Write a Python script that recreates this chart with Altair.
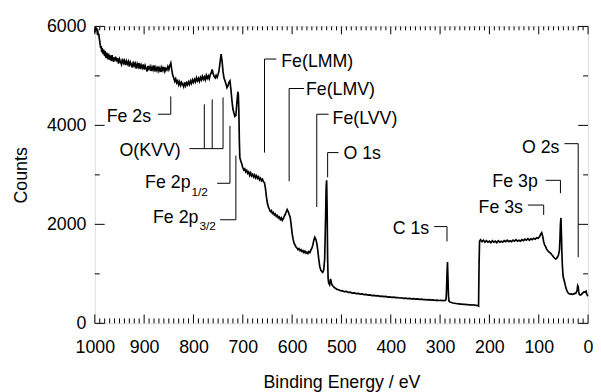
import altair as alt
import pandas as pd

# ---- spectrum ----
energy_ev = [
    1000, 999, 998, 997, 996, 995, 994, 993, 992, 991,
    990, 989, 988, 987, 986, 985, 984, 983, 982, 981,
    980, 979, 978, 977, 976, 975, 974, 973, 972, 971,
    970, 969, 968, 967, 966, 965, 964, 963, 962, 961,
    960, 958, 956, 954, 952, 950, 948, 946, 944, 942,
    940, 938, 936, 934, 932, 930, 928, 926, 924, 922,
    920, 918, 916, 914, 912, 910, 908, 906, 904, 902,
    900, 898, 896, 894, 892, 890, 888, 886, 884, 882,
    880, 878, 876, 874, 872, 870, 868, 866, 864, 862,
    860, 858, 856, 854, 852, 850, 848, 846, 844, 842,
    840, 838, 836, 834, 832, 830, 828, 826, 824, 822,
    820, 818, 816, 814, 812, 810, 808, 806, 804, 802,
    800, 798, 796, 794, 792, 790, 788, 786, 784, 782,
    780, 778, 776, 774, 772, 770, 768, 766, 764, 762,
    760, 758, 756, 754, 752, 750, 748, 746, 744, 742,
    740, 738, 736, 734, 732, 730, 728, 726, 724, 722,
    720, 718, 716, 714, 712, 710, 709, 708, 707, 706,
    704, 702, 700, 698, 696, 694, 692, 690, 688, 686,
    684, 682, 680, 678, 676, 674, 672, 670, 668, 666,
    664, 662, 660, 658, 656, 654, 652, 650, 648, 646,
    644, 642, 640, 638, 636, 634, 632, 630, 628, 626,
    624, 622, 620, 618, 616, 614, 612, 610, 608, 606,
    604, 602, 600, 598, 596, 594, 592, 590, 588, 586,
    584, 582, 580, 578, 576, 574, 572, 570, 568, 566,
    564, 562, 560, 558, 556, 554, 552, 550, 548, 546,
    544, 542, 540, 538, 536, 534, 532, 531, 530, 529,
    528, 527, 526, 524, 522, 520, 518, 516, 514, 512,
    510, 506, 502, 498, 494, 490, 486, 482, 478, 474,
    470, 466, 462, 458, 454, 450, 446, 442, 438, 434,
    430, 426, 422, 418, 414, 410, 406, 402, 398, 394,
    390, 386, 382, 378, 374, 370, 366, 362, 358, 354,
    350, 346, 342, 338, 334, 330, 326, 322, 318, 314,
    310, 306, 302, 298, 294, 290, 288, 287, 286, 285,
    284, 283, 282, 280, 277, 274, 271, 268, 265, 262,
    259, 256, 253, 250, 247, 244, 241, 238, 235, 232,
    229, 226, 223, 222, 221, 220, 218, 215, 212, 209,
    206, 203, 200, 197, 194, 191, 188, 185, 182, 179,
    176, 173, 170, 167, 164, 161, 158, 155, 152, 149,
    146, 143, 140, 137, 134, 131, 128, 125, 122, 119,
    116, 113, 110, 107, 104, 101, 98, 96, 94, 92,
    90, 88, 86, 84, 82, 80, 78, 76, 74, 72,
    70, 68, 66, 64, 62, 60, 58, 57, 56, 55,
    54, 53, 52, 51, 50, 48, 46, 44, 42, 40,
    38, 36, 34, 32, 30, 28, 26, 24, 22, 21,
    20, 19, 18, 16, 14, 12, 10, 8, 6, 4,
    3, 2, 1, 0,
]
counts = [
    5880, 5950, 5990, 5920, 5960, 5880, 5900, 5820, 5850, 5760,
    5700, 5620, 5560, 5600, 5480, 5560, 5500, 5440, 5530, 5450,
    5400, 5500, 5420, 5360, 5470, 5390, 5430, 5330, 5450, 5370,
    5420, 5320, 5410, 5350, 5300, 5420, 5330, 5380, 5280, 5370,
    5310, 5390, 5290, 5360, 5250, 5340, 5280, 5230, 5350, 5260,
    5310, 5220, 5300, 5240, 5290, 5190, 5280, 5230, 5170, 5290,
    5200, 5250, 5150, 5240, 5180, 5260, 5140, 5220, 5160, 5230,
    5130, 5210, 5150, 5090, 5200, 5140, 5190, 5100, 5180, 5120,
    5210, 5090, 5170, 5110, 5190, 5100, 5160, 5080, 5170, 5110,
    5180, 5090, 5150, 5120, 5190, 5130, 5210, 5260, 5120, 5010,
    4960, 4890, 4940, 4860, 4900, 4820, 4880, 4810, 4870, 4830,
    4780, 4870, 4800, 4860, 4820, 4880, 4830, 4900, 4850, 4920,
    4870, 4930, 4880, 4960, 4900, 4950, 4890, 4970, 4920, 4990,
    4930, 4980, 4920, 5010, 4950, 5000, 4940, 5020, 5060, 5130,
    5040, 4990, 4960, 5010, 4970, 5030, 5120, 5280, 5440, 5300,
    5080, 4950, 4900, 4830, 4760, 4800, 4870, 4900, 4720, 4500,
    4330, 4250, 4180, 4200, 4450, 4680, 4620, 4300, 3700, 3350,
    3280, 3220, 3150, 3100, 3120, 3060, 3090, 3030, 3060, 2990,
    3040, 2980, 3010, 2960, 3000, 2940, 2980, 2930, 2960, 2900,
    2930, 2880, 2910, 2860, 2840, 2720, 2550, 2420, 2350, 2300,
    2260, 2280, 2220, 2240, 2190, 2210, 2160, 2180, 2130, 2150,
    2100, 2130, 2080, 2110, 2160, 2200, 2250, 2300, 2260, 2200,
    2150, 2000, 1820, 1700, 1620, 1580, 1540, 1520, 1490, 1510,
    1470, 1490, 1450, 1470, 1430, 1460, 1420, 1440, 1410, 1450,
    1430, 1480, 1520, 1580, 1680, 1740, 1700, 1620, 1480, 1300,
    1150, 1080, 1050, 1030, 1070, 1300, 2200, 2750, 2890, 2300,
    1300, 900, 820, 780, 900, 800, 760, 740, 720, 710,
    690, 680, 660, 655, 640, 645, 625, 630, 610, 615,
    600, 605, 590, 595, 580, 585, 570, 575, 560, 565,
    555, 560, 545, 550, 540, 545, 530, 535, 525, 530,
    520, 522, 512, 516, 505, 510, 500, 505, 495, 498,
    490, 494, 484, 488, 478, 482, 474, 478, 470, 473,
    465, 470, 462, 466, 458, 462, 480, 650, 1000, 1240,
    900, 560, 450, 430, 420, 410, 405, 400, 395, 392,
    388, 390, 382, 385, 378, 380, 374, 376, 370, 372,
    366, 362, 356, 350, 1200, 1660, 1690, 1650, 1680, 1640,
    1670, 1640, 1660, 1630, 1670, 1640, 1660, 1630, 1670, 1640,
    1660, 1640, 1670, 1650, 1680, 1650, 1670, 1650, 1680, 1660,
    1690, 1660, 1680, 1660, 1690, 1670, 1700, 1680, 1710, 1680,
    1710, 1690, 1720, 1700, 1730, 1720, 1760, 1800, 1830, 1760,
    1650, 1580, 1550, 1500, 1470, 1450, 1430, 1420, 1390, 1370,
    1340, 1320, 1300, 1310, 1340, 1380, 1480, 1700, 2000, 2130,
    1800, 1400, 1150, 1000, 920, 850, 760, 690, 640, 610,
    600, 590, 595, 585, 590, 600, 605, 620, 680, 760,
    740, 640, 590, 570, 575, 600, 620, 640, 630, 650,
    600, 580, 560, 550,
]

# ---- axis ticks ----
x_label_values = [0, 100, 200, 300, 400, 500, 600, 700, 800, 900, 1000]
x_minor_values = [v for v in range(10, 1000, 10) if v % 100 != 0]
y_label_values = [0, 2000, 4000, 6000]
y_minor_values = [1000, 3000, 5000]

# ---- annotation texts (data coordinates) ----
right_text = ["Fe 2s", "O(KVV)", "C 1s", "Fe 3s", "Fe 3p", "O 2s"]
right_x = [886, 826, 322, 132, 102, 58]
right_y = [4165, 3490, 1895, 2330, 2850, 3550]

left_text = ["Fe(LMM)", "Fe(LMV)", "Fe(LVV)", "O 1s", "Fe 2p", "Fe 2p"]
left_x = [622, 572, 518, 496, 898, 882]
left_y = [5280, 4720, 4125, 3430, 2830, 2133]

sub_text = ["1/2", "3/2"]
sub_x = [804, 788]
sub_y = [2650, 1973]

# ---- annotation leader lines (data coordinates) ----
seg_x = [872, 846, 808, 778, 762, 740, 752, 726, 746, 714, 656, 656,
         606, 606, 550, 550, 528, 528, 312, 286, 122, 90, 86, 56, 48, 20]
seg_x2 = [846, 846, 740, 778, 762, 740, 726, 726, 714, 714, 632, 656,
          576, 606, 526, 550, 506, 528, 286, 286, 90, 90, 56, 56, 20, 20]
seg_y = [4225, 4225, 3530, 3530, 3530, 3530, 2830, 2830, 2093, 2093, 5340, 5340,
         4745, 4745, 4225, 4225, 3450, 3450, 1955, 1955, 2390, 2390, 2890, 2890, 3630, 3630]
seg_y2 = [4225, 4585, 3530, 4425, 4525, 4565, 2830, 3990, 2093, 3390, 5340, 3450,
          4745, 2870, 4225, 2350, 3450, 2950, 1955, 1655, 2390, 2190, 2890, 2630, 3630, 1335]

W, H = 500, 301
FONT = "Liberation Sans"

xs = alt.Scale(domain=[0, 1000], reverse=True, nice=False, zero=False)
ys = alt.Scale(domain=[0, 6000], nice=False)

XAX = alt.Axis(
    values=x_label_values, format="d", ticks=False, tickSize=0, domain=False, grid=False,
    labelPadding=16, labelFontSize=18, labelFont=FONT, labelColor="black",
    labelFlush=False,
    title="Binding Energy  /  eV", titleFontSize=18, titleFont=FONT,
    titleFontWeight="normal", titleColor="black", titlePadding=17)
YAX = alt.Axis(
    values=y_label_values, format="d", ticks=False, tickSize=0, domain=False, grid=False,
    labelPadding=9, labelFontSize=18, labelFont=FONT, labelColor="black",
    labelFlush=False,
    title="Counts", titleFontSize=18, titleFont=FONT,
    titleFontWeight="normal", titleColor="black", titlePadding=16)


def X(field):
    return alt.X(field, scale=xs, axis=XAX, title="Binding Energy  /  eV")


def Y(field):
    return alt.Y(field, scale=ys, axis=YAX, title="Counts")


spec_df = pd.DataFrame({"E": energy_ev, "C": counts})

line = alt.Chart(spec_df).mark_line(color="black", strokeWidth=1.7).encode(
    x=X("E:Q"), y=Y("C:Q"),
    order=alt.Order("E:Q", sort="descending"),
)

xmaj = pd.DataFrame({"v": x_label_values})
xmin = pd.DataFrame({"v": x_minor_values})
ymaj = pd.DataFrame({"v": y_label_values})
ymin = pd.DataFrame({"v": y_minor_values})


def xticks(df, y0, y1):
    return alt.Chart(df).mark_rule(color="black", strokeWidth=1).encode(
        x=X("v:Q"), y=alt.value(y0), y2=alt.value(y1))


def yticks(df, x0, x1):
    return alt.Chart(df).mark_rule(color="black", strokeWidth=1).encode(
        y=Y("v:Q"), x=alt.value(x0), x2=alt.value(x1))


tick_layers = [
    xticks(xmaj, H, H - 9), xticks(xmin, H, H - 5),
    xticks(xmaj, 0, 8), xticks(xmin, 0, 4),
    yticks(ymaj, 0, 10), yticks(ymin, 0, 5),
    yticks(ymaj, W, W - 10), yticks(ymin, W, W - 5),
]

seg_df = pd.DataFrame({"x": seg_x, "x2": seg_x2, "y": seg_y, "y2": seg_y2})
segs = alt.Chart(seg_df).mark_rule(color="black", strokeWidth=1).encode(
    x=X("x:Q"), x2="x2:Q", y=Y("y:Q"), y2="y2:Q")

rdf = pd.DataFrame({"t": right_text, "x": right_x, "y": right_y})
ldf = pd.DataFrame({"t": left_text, "x": left_x, "y": left_y})
sdf = pd.DataFrame({"t": sub_text, "x": sub_x, "y": sub_y})

rtext = alt.Chart(rdf).mark_text(align="right", baseline="middle", font=FONT,
                                 fontSize=18, color="black").encode(
    x=X("x:Q"), y=Y("y:Q"), text="t:N")
ltext = alt.Chart(ldf).mark_text(align="left", baseline="middle", font=FONT,
                                 fontSize=18, color="black").encode(
    x=X("x:Q"), y=Y("y:Q"), text="t:N")
stext = alt.Chart(sdf).mark_text(align="left", baseline="middle", font=FONT,
                                 fontSize=12, color="black").encode(
    x=X("x:Q"), y=Y("y:Q"), text="t:N")

chart = alt.layer(line, *tick_layers, segs, rtext, ltext, stext).properties(
    width=W, height=H,
    autosize=alt.AutoSizeParams(type="none"),
    padding={"left": 88, "top": 16, "right": 5, "bottom": 70},
).configure_view(stroke="black", strokeWidth=1).configure(background="white")

chart.save("out.html", embed_options={"renderer": "svg", "actions": False})
